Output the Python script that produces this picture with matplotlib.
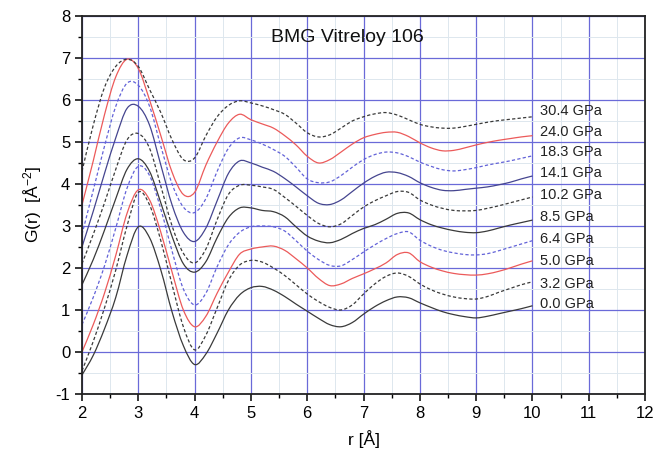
import numpy as np
import matplotlib
matplotlib.use("Agg")
import matplotlib.pyplot as plt
from matplotlib.path import Path
from matplotlib.patches import PathPatch
from matplotlib.ticker import MultipleLocator

plt.rcParams['font.family'] = ['Liberation Sans', 'DejaVu Sans']
plt.rcParams['mathtext.fontset'] = 'custom'
plt.rcParams['mathtext.rm'] = 'Liberation Sans'
plt.rcParams['mathtext.it'] = 'Liberation Sans:italic'
plt.rcParams['axes.unicode_minus'] = False

# r grid (Å) shared by all pressure curves
r = np.round(np.arange(2.0, 10.01, 0.2), 1)

g_00 = [-0.55, -0.08, 0.55, 1.3, 2.3, 2.98, 2.72, 1.95, 0.95, 0.15,
        -0.3, -0.05, 0.45, 1.0, 1.36, 1.53, 1.56, 1.47, 1.32, 1.14,
        0.97, 0.8, 0.65, 0.6, 0.7, 0.9, 1.08, 1.22, 1.31, 1.29,
        1.17, 1.06, 0.96, 0.89, 0.84, 0.81, 0.85, 0.91, 0.97, 1.03, 1.1]
g_32 = [-0.45, 0.25, 1.05, 1.95, 3.0, 3.8, 3.5, 2.65, 1.6, 0.6,
        0.05, 0.4, 1.05, 1.7, 2.07, 2.18, 2.14, 2.0, 1.82, 1.6,
        1.38, 1.2, 1.06, 1.0, 1.12, 1.38, 1.62, 1.8, 1.88, 1.8,
        1.62, 1.48, 1.38, 1.31, 1.27, 1.26, 1.32, 1.42, 1.51, 1.6, 1.67]
g_50 = [0.0, 0.65, 1.4, 2.3, 3.3, 3.86, 3.62, 2.85, 1.9, 1.0,
        0.6, 0.85, 1.4, 1.9, 2.33, 2.45, 2.5, 2.52, 2.42, 2.22,
        2.0, 1.75, 1.58, 1.62, 1.75, 1.86, 1.98, 2.12, 2.32, 2.36,
        2.15, 2.02, 1.93, 1.87, 1.84, 1.83, 1.86, 1.92, 2.0, 2.09, 2.17]
g_64 = [0.65, 1.3, 2.05, 2.95, 3.9, 4.42, 4.2, 3.4, 2.4, 1.5,
        1.12, 1.4, 2.03, 2.55, 2.85, 2.98, 3.0, 2.98, 2.88, 2.65,
        2.4, 2.2, 2.06, 2.05, 2.2, 2.38, 2.55, 2.7, 2.82, 2.86,
        2.66, 2.52, 2.42, 2.36, 2.32, 2.31, 2.34, 2.41, 2.49, 2.57, 2.65]
g_85 = [1.6, 2.2, 2.9, 3.65, 4.35, 4.6, 4.3, 3.55, 2.75, 2.1,
        1.9, 2.15, 2.72, 3.2, 3.43, 3.43, 3.37, 3.34, 3.22, 2.98,
        2.76, 2.64, 2.6, 2.68, 2.82, 2.94, 3.03, 3.16, 3.3, 3.31,
        3.15, 3.03, 2.95, 2.89, 2.85, 2.84, 2.88, 2.95, 3.02, 3.08, 3.14]
g_102 = [2.1, 2.8, 3.55, 4.35, 5.05, 5.2, 4.85, 3.95, 3.0, 2.35,
         2.12, 2.45, 3.15, 3.75, 3.97, 3.97, 3.93, 3.87, 3.68, 3.47,
         3.25, 3.06, 2.98, 3.05, 3.25, 3.45, 3.6, 3.72, 3.82, 3.8,
         3.62, 3.5, 3.42, 3.37, 3.36, 3.37, 3.42, 3.48, 3.55, 3.62, 3.69]
g_141 = [2.5, 3.35, 4.25, 5.1, 5.8, 5.85, 5.4, 4.45, 3.5, 2.85,
         2.63, 2.95, 3.6, 4.25, 4.55, 4.5, 4.4, 4.3, 4.13, 3.93,
         3.72, 3.54, 3.51, 3.62, 3.82, 4.02, 4.18, 4.28, 4.27, 4.18,
         4.03, 3.92, 3.85, 3.84, 3.87, 3.9, 3.93, 3.98, 4.04, 4.12, 4.19]
g_183 = [2.8, 3.85, 4.9, 5.85, 6.4, 6.35, 5.85, 4.9, 4.0, 3.45,
         3.32, 3.65, 4.3, 4.85, 5.1, 5.05, 4.95, 4.82, 4.66, 4.4,
         4.12, 4.03, 4.05, 4.2, 4.4, 4.58, 4.7, 4.76, 4.74, 4.65,
         4.52, 4.42, 4.34, 4.31, 4.34, 4.39, 4.45, 4.5, 4.55, 4.61, 4.67]
g_240 = [3.5, 4.55, 5.65, 6.55, 6.97, 6.75, 6.0, 5.15, 4.28, 3.75,
         3.8, 4.45, 5.0, 5.45, 5.66, 5.53, 5.43, 5.33, 5.15, 4.93,
         4.66, 4.5, 4.58, 4.76, 4.95, 5.1, 5.18, 5.23, 5.23, 5.13,
         4.98, 4.86, 4.79, 4.8, 4.86, 4.93, 4.99, 5.04, 5.08, 5.12, 5.15]
g_304 = [4.3, 5.4, 6.3, 6.8, 6.97, 6.8, 6.25, 5.7, 5.05, 4.58,
         4.62, 5.15, 5.6, 5.87, 5.98, 5.93, 5.86, 5.77, 5.66, 5.45,
         5.22, 5.12, 5.17, 5.33, 5.5, 5.6, 5.67, 5.7, 5.64, 5.53,
         5.42, 5.36, 5.33, 5.33, 5.37, 5.42, 5.47, 5.51, 5.54, 5.57, 5.6]

labels = ['0.0 GPa', '3.2 GPa', '5.0 GPa', '6.4 GPa', '8.5 GPa',
          '10.2 GPa', '14.1 GPa', '18.3 GPa', '24.0 GPa', '30.4 GPa']
label_y = [1.14, 1.62, 2.17, 2.69, 3.22, 3.74, 4.26, 4.76, 5.24, 5.74]
curves = [g_00, g_32, g_50, g_64, g_85, g_102, g_141, g_183, g_240, g_304]

black = '#3a3a3a'
red = '#ec5a5a'
navy = '#45458f'
blue = '#6262d8'
short_dash = (0, (2.6, 1.8))
styles = [(black, '-'), (black, short_dash), (red, '-'), (blue, short_dash),
          (black, '-'), (black, short_dash), (navy, '-'), (blue, short_dash),
          (red, '-'), (black, short_dash)]


def spline_path(x, y):
    # smooth connection through every point (Catmull-Rom as cubic Bezier)
    p = np.column_stack([x, y])
    ext = np.vstack([p[0], p, p[-1]])
    verts = [p[0]]
    codes = [Path.MOVETO]
    for i in range(len(p) - 1):
        p0, p1, p2, p3 = ext[i], ext[i + 1], ext[i + 2], ext[i + 3]
        verts += [p1 + (p2 - p0) / 6, p2 - (p3 - p1) / 6, p2]
        codes += [Path.CURVE4] * 3
    return Path(verts, codes)


fig = plt.figure(figsize=(6.72, 4.57), dpi=100)
ax = fig.add_axes([0.122, 0.138, 0.838, 0.827])

for g, (c, ls) in zip(curves, styles):
    ax.add_patch(PathPatch(spline_path(r, g), fill=False, edgecolor=c,
                           linestyle=ls, linewidth=0.9))

for lab, yl in zip(labels, label_y):
    ax.text(10.13, yl, lab, fontsize=10.5, va='center', ha='left', color='#222222')

ax.text(6.72, 7.48, 'BMG Vitreloy 106', fontsize=14, ha='center', va='center',
        color='#111111')

ax.set_xlim(2, 12)
ax.set_ylim(-1, 8)
ax.xaxis.set_major_locator(MultipleLocator(1))
ax.xaxis.set_minor_locator(MultipleLocator(0.5))
ax.yaxis.set_major_locator(MultipleLocator(1))
ax.yaxis.set_minor_locator(MultipleLocator(0.5))
ax.grid(which='minor', color='#dde7ee', linewidth=0.7)
ax.grid(which='major', color='#6a6ad8', linewidth=0.9)
ax.set_axisbelow(True)

for s in ax.spines.values():
    s.set_linewidth(1.3)
    s.set_color('#222222')
ax.tick_params(which='major', direction='out', length=5, width=1.1,
               labelsize=12, top=False, right=False)
ax.tick_params(which='minor', direction='out', length=3, width=1.0,
               top=False, right=False)

ax.set_xlabel('r [Å]', fontsize=12.5, labelpad=7)
ax.set_ylabel('G(r)  [Å$^{-2}$]', fontsize=12.5, labelpad=8)

fig.savefig('out.png', dpi=100)
